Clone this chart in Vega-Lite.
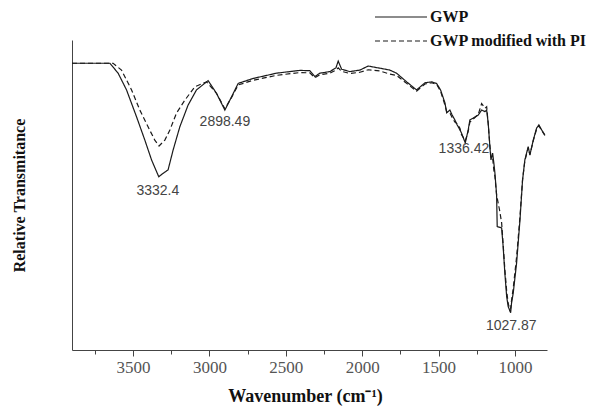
{
  "$schema": "https://vega.github.io/schema/vega-lite/v6.json",
  "width": 475,
  "height": 310,
  "autosize": {"type": "none"},
  "padding": {"left": 72, "top": 40, "right": 45, "bottom": 61},
  "background": "white",
  "config": {"view": {"stroke": null}, "axis": {"grid": false}},
  "datasets": {
    "spectra": [
      {"series": "GWP", "wn": 3900, "T": 92.5},
      {"series": "GWP", "wn": 3783, "T": 92.5},
      {"series": "GWP", "wn": 3652, "T": 92.5},
      {"series": "GWP", "wn": 3598, "T": 89.3},
      {"series": "GWP", "wn": 3543, "T": 83.9},
      {"series": "GWP", "wn": 3478, "T": 75.3},
      {"series": "GWP", "wn": 3423, "T": 67.7},
      {"series": "GWP", "wn": 3379, "T": 61.3},
      {"series": "GWP", "wn": 3332, "T": 55.9},
      {"series": "GWP", "wn": 3303, "T": 57.0},
      {"series": "GWP", "wn": 3271, "T": 58.1},
      {"series": "GWP", "wn": 3238, "T": 64.5},
      {"series": "GWP", "wn": 3194, "T": 72.0},
      {"series": "GWP", "wn": 3140, "T": 79.0},
      {"series": "GWP", "wn": 3085, "T": 83.9},
      {"series": "GWP", "wn": 3009, "T": 86.9},
      {"series": "GWP", "wn": 2954, "T": 82.8},
      {"series": "GWP", "wn": 2899, "T": 77.4},
      {"series": "GWP", "wn": 2855, "T": 81.7},
      {"series": "GWP", "wn": 2812, "T": 86.0},
      {"series": "GWP", "wn": 2714, "T": 87.6},
      {"series": "GWP", "wn": 2561, "T": 89.3},
      {"series": "GWP", "wn": 2408, "T": 90.2},
      {"series": "GWP", "wn": 2343, "T": 90.1},
      {"series": "GWP", "wn": 2310, "T": 88.2},
      {"series": "GWP", "wn": 2277, "T": 89.3},
      {"series": "GWP", "wn": 2212, "T": 89.8},
      {"series": "GWP", "wn": 2172, "T": 91.0},
      {"series": "GWP", "wn": 2157, "T": 93.2},
      {"series": "GWP", "wn": 2135, "T": 90.6},
      {"series": "GWP", "wn": 2081, "T": 89.8},
      {"series": "GWP", "wn": 2015, "T": 90.3},
      {"series": "GWP", "wn": 1961, "T": 91.6},
      {"series": "GWP", "wn": 1884, "T": 90.9},
      {"series": "GWP", "wn": 1819, "T": 90.3},
      {"series": "GWP", "wn": 1775, "T": 89.3},
      {"series": "GWP", "wn": 1709, "T": 86.5},
      {"series": "GWP", "wn": 1644, "T": 83.9},
      {"series": "GWP", "wn": 1589, "T": 86.2},
      {"series": "GWP", "wn": 1546, "T": 86.5},
      {"series": "GWP", "wn": 1513, "T": 86.0},
      {"series": "GWP", "wn": 1487, "T": 83.9},
      {"series": "GWP", "wn": 1458, "T": 79.7},
      {"series": "GWP", "wn": 1447, "T": 76.5},
      {"series": "GWP", "wn": 1426, "T": 77.4},
      {"series": "GWP", "wn": 1411, "T": 75.8},
      {"series": "GWP", "wn": 1393, "T": 74.2},
      {"series": "GWP", "wn": 1378, "T": 72.6},
      {"series": "GWP", "wn": 1360, "T": 71.0},
      {"series": "GWP", "wn": 1350, "T": 70.0},
      {"series": "GWP", "wn": 1325, "T": 66.8},
      {"series": "GWP", "wn": 1306, "T": 71.0},
      {"series": "GWP", "wn": 1295, "T": 74.2},
      {"series": "GWP", "wn": 1273, "T": 74.8},
      {"series": "GWP", "wn": 1240, "T": 75.8},
      {"series": "GWP", "wn": 1218, "T": 77.4},
      {"series": "GWP", "wn": 1196, "T": 76.9},
      {"series": "GWP", "wn": 1185, "T": 77.4},
      {"series": "GWP", "wn": 1175, "T": 73.2},
      {"series": "GWP", "wn": 1164, "T": 65.6},
      {"series": "GWP", "wn": 1157, "T": 61.3},
      {"series": "GWP", "wn": 1146, "T": 63.5},
      {"series": "GWP", "wn": 1138, "T": 60.3},
      {"series": "GWP", "wn": 1131, "T": 57.1},
      {"series": "GWP", "wn": 1120, "T": 50.0},
      {"series": "GWP", "wn": 1116, "T": 39.8},
      {"series": "GWP", "wn": 1087, "T": 39.4},
      {"series": "GWP", "wn": 1077, "T": 33.3},
      {"series": "GWP", "wn": 1066, "T": 24.8},
      {"series": "GWP", "wn": 1054, "T": 17.2},
      {"series": "GWP", "wn": 1044, "T": 14.0},
      {"series": "GWP", "wn": 1028, "T": 12.0},
      {"series": "GWP", "wn": 1022, "T": 15.2},
      {"series": "GWP", "wn": 1011, "T": 18.4},
      {"series": "GWP", "wn": 989, "T": 28.1},
      {"series": "GWP", "wn": 967, "T": 41.9},
      {"series": "GWP", "wn": 950, "T": 54.8},
      {"series": "GWP", "wn": 935, "T": 61.3},
      {"series": "GWP", "wn": 913, "T": 65.6},
      {"series": "GWP", "wn": 902, "T": 62.9},
      {"series": "GWP", "wn": 880, "T": 67.7},
      {"series": "GWP", "wn": 858, "T": 71.6},
      {"series": "GWP", "wn": 843, "T": 72.6},
      {"series": "GWP", "wn": 825, "T": 71.0},
      {"series": "GWP", "wn": 804, "T": 69.4},
      {"series": "GWP modified with PI", "wn": 3900, "T": 92.5},
      {"series": "GWP modified with PI", "wn": 3783, "T": 92.5},
      {"series": "GWP modified with PI", "wn": 3631, "T": 92.5},
      {"series": "GWP modified with PI", "wn": 3576, "T": 90.3},
      {"series": "GWP modified with PI", "wn": 3510, "T": 83.9},
      {"series": "GWP modified with PI", "wn": 3456, "T": 77.4},
      {"series": "GWP modified with PI", "wn": 3402, "T": 72.0},
      {"series": "GWP modified with PI", "wn": 3358, "T": 67.7},
      {"series": "GWP modified with PI", "wn": 3330, "T": 65.8},
      {"series": "GWP modified with PI", "wn": 3292, "T": 67.7},
      {"series": "GWP modified with PI", "wn": 3259, "T": 71.0},
      {"series": "GWP modified with PI", "wn": 3216, "T": 76.4},
      {"series": "GWP modified with PI", "wn": 3161, "T": 80.6},
      {"series": "GWP modified with PI", "wn": 3096, "T": 84.9},
      {"series": "GWP modified with PI", "wn": 3019, "T": 86.5},
      {"series": "GWP modified with PI", "wn": 2954, "T": 82.8},
      {"series": "GWP modified with PI", "wn": 2899, "T": 77.8},
      {"series": "GWP modified with PI", "wn": 2855, "T": 81.5},
      {"series": "GWP modified with PI", "wn": 2812, "T": 85.5},
      {"series": "GWP modified with PI", "wn": 2714, "T": 87.0},
      {"series": "GWP modified with PI", "wn": 2561, "T": 88.6},
      {"series": "GWP modified with PI", "wn": 2408, "T": 89.5},
      {"series": "GWP modified with PI", "wn": 2343, "T": 89.4},
      {"series": "GWP modified with PI", "wn": 2310, "T": 87.8},
      {"series": "GWP modified with PI", "wn": 2277, "T": 88.8},
      {"series": "GWP modified with PI", "wn": 2212, "T": 89.3},
      {"series": "GWP modified with PI", "wn": 2172, "T": 90.3},
      {"series": "GWP modified with PI", "wn": 2157, "T": 91.0},
      {"series": "GWP modified with PI", "wn": 2135, "T": 89.9},
      {"series": "GWP modified with PI", "wn": 2081, "T": 89.2},
      {"series": "GWP modified with PI", "wn": 2015, "T": 89.6},
      {"series": "GWP modified with PI", "wn": 1961, "T": 90.4},
      {"series": "GWP modified with PI", "wn": 1884, "T": 90.0},
      {"series": "GWP modified with PI", "wn": 1819, "T": 89.0},
      {"series": "GWP modified with PI", "wn": 1775, "T": 88.6},
      {"series": "GWP modified with PI", "wn": 1709, "T": 86.0},
      {"series": "GWP modified with PI", "wn": 1644, "T": 83.5},
      {"series": "GWP modified with PI", "wn": 1589, "T": 85.8},
      {"series": "GWP modified with PI", "wn": 1546, "T": 86.2},
      {"series": "GWP modified with PI", "wn": 1513, "T": 85.7},
      {"series": "GWP modified with PI", "wn": 1487, "T": 83.5},
      {"series": "GWP modified with PI", "wn": 1458, "T": 79.0},
      {"series": "GWP modified with PI", "wn": 1447, "T": 77.0},
      {"series": "GWP modified with PI", "wn": 1426, "T": 76.5},
      {"series": "GWP modified with PI", "wn": 1411, "T": 75.0},
      {"series": "GWP modified with PI", "wn": 1393, "T": 73.5},
      {"series": "GWP modified with PI", "wn": 1378, "T": 73.0},
      {"series": "GWP modified with PI", "wn": 1360, "T": 71.5},
      {"series": "GWP modified with PI", "wn": 1350, "T": 69.5},
      {"series": "GWP modified with PI", "wn": 1325, "T": 67.5},
      {"series": "GWP modified with PI", "wn": 1306, "T": 70.5},
      {"series": "GWP modified with PI", "wn": 1295, "T": 73.5},
      {"series": "GWP modified with PI", "wn": 1273, "T": 74.5},
      {"series": "GWP modified with PI", "wn": 1240, "T": 76.0},
      {"series": "GWP modified with PI", "wn": 1218, "T": 79.5},
      {"series": "GWP modified with PI", "wn": 1196, "T": 78.0},
      {"series": "GWP modified with PI", "wn": 1185, "T": 78.5},
      {"series": "GWP modified with PI", "wn": 1175, "T": 73.0},
      {"series": "GWP modified with PI", "wn": 1164, "T": 66.0},
      {"series": "GWP modified with PI", "wn": 1157, "T": 62.0},
      {"series": "GWP modified with PI", "wn": 1146, "T": 62.0},
      {"series": "GWP modified with PI", "wn": 1138, "T": 58.0},
      {"series": "GWP modified with PI", "wn": 1131, "T": 56.0},
      {"series": "GWP modified with PI", "wn": 1120, "T": 50.0},
      {"series": "GWP modified with PI", "wn": 1100, "T": 45.0},
      {"series": "GWP modified with PI", "wn": 1087, "T": 41.0},
      {"series": "GWP modified with PI", "wn": 1077, "T": 34.0},
      {"series": "GWP modified with PI", "wn": 1066, "T": 26.0},
      {"series": "GWP modified with PI", "wn": 1054, "T": 19.0},
      {"series": "GWP modified with PI", "wn": 1044, "T": 15.0},
      {"series": "GWP modified with PI", "wn": 1033, "T": 13.0},
      {"series": "GWP modified with PI", "wn": 1028, "T": 13.5},
      {"series": "GWP modified with PI", "wn": 1022, "T": 16.0},
      {"series": "GWP modified with PI", "wn": 1011, "T": 20.0},
      {"series": "GWP modified with PI", "wn": 989, "T": 30.0},
      {"series": "GWP modified with PI", "wn": 967, "T": 43.0},
      {"series": "GWP modified with PI", "wn": 950, "T": 55.0},
      {"series": "GWP modified with PI", "wn": 935, "T": 61.0},
      {"series": "GWP modified with PI", "wn": 913, "T": 65.3},
      {"series": "GWP modified with PI", "wn": 902, "T": 63.0},
      {"series": "GWP modified with PI", "wn": 880, "T": 67.5},
      {"series": "GWP modified with PI", "wn": 858, "T": 71.3},
      {"series": "GWP modified with PI", "wn": 843, "T": 72.3},
      {"series": "GWP modified with PI", "wn": 825, "T": 70.8},
      {"series": "GWP modified with PI", "wn": 804, "T": 69.2}
    ],
    "peaks": [
      {"wn": 3338, "T": 51.3, "lbl": "3332.4"},
      {"wn": 2899, "T": 73.6, "lbl": "2898.49"},
      {"wn": 1334, "T": 64.7, "lbl": "1336.42"},
      {"wn": 1024, "T": 7.7, "lbl": "1027.87"}
    ]
  },
  "layer": [
    {
      "data": {"name": "spectra"},
      "mark": {"type": "line", "strokeWidth": 1.2, "color": "#1a1a1a"},
      "encoding": {
        "x": {
          "field": "wn", "type": "quantitative",
          "scale": {"domain": [3900, 790], "nice": false, "zero": false},
          "axis": {
            "title": "Wavenumber (cm⁻¹)",
            "values": [3750, 3500, 3250, 3000, 2750, 2500, 2250, 2000, 1750, 1500, 1250, 1000],
            "format": "d",
            "labelExpr": "datum.value % 500 === 0 ? datum.label : ''",
            "tickSize": {"condition": {"test": "datum.value % 500 === 0", "value": 6}, "value": 4},
            "tickColor": "#444",
            "domainColor": "#444",
            "labelFont": "Liberation Serif",
            "labelFontSize": 17,
            "labelColor": "#555",
            "labelPadding": 3,
            "labelFlush": false,
            "titleFont": "Liberation Serif",
            "titleFontWeight": "bold",
            "titleFontSize": 18,
            "titleColor": "#111",
            "titlePadding": 12,
            "titleX": 233
          }
        },
        "y": {
          "field": "T", "type": "quantitative",
          "scale": {"domain": [0, 100], "nice": false, "zero": false},
          "axis": {
            "title": "Relative Transmitance",
            "labels": false,
            "ticks": false,
            "domainColor": "#444",
            "titleFont": "Liberation Serif",
            "titleFontWeight": "bold",
            "titleFontSize": 16,
            "titleColor": "#111",
            "titlePadding": 45
          }
        },
        "strokeDash": {
          "field": "series", "type": "nominal",
          "scale": {"domain": ["GWP", "GWP modified with PI"], "range": [[1, 0], [5, 3]]},
          "legend": {
            "orient": "none",
            "legendX": 320,
            "legendY": -32,
            "title": null,
            "symbolType": "M-3.25,0H3.25",
            "symbolSize": 256,
            "symbolFillColor": "transparent",
            "symbolStrokeColor": "#1a1a1a",
            "symbolStrokeWidth": 1.2,
            "labelFont": "Liberation Serif",
            "labelFontWeight": "bold",
            "labelFontSize": 16,
            "labelColor": "#111",
            "labelOffset": 20,
            "rowPadding": 7
          }
        }
      }
    },
    {
      "data": {"name": "peaks"},
      "mark": {"type": "text", "font": "Liberation Sans", "fontSize": 14, "color": "#444", "align": "center", "baseline": "middle"},
      "encoding": {
        "x": {"field": "wn", "type": "quantitative"},
        "y": {"field": "T", "type": "quantitative"},
        "text": {"field": "lbl", "type": "nominal"}
      }
    }
  ]
}
